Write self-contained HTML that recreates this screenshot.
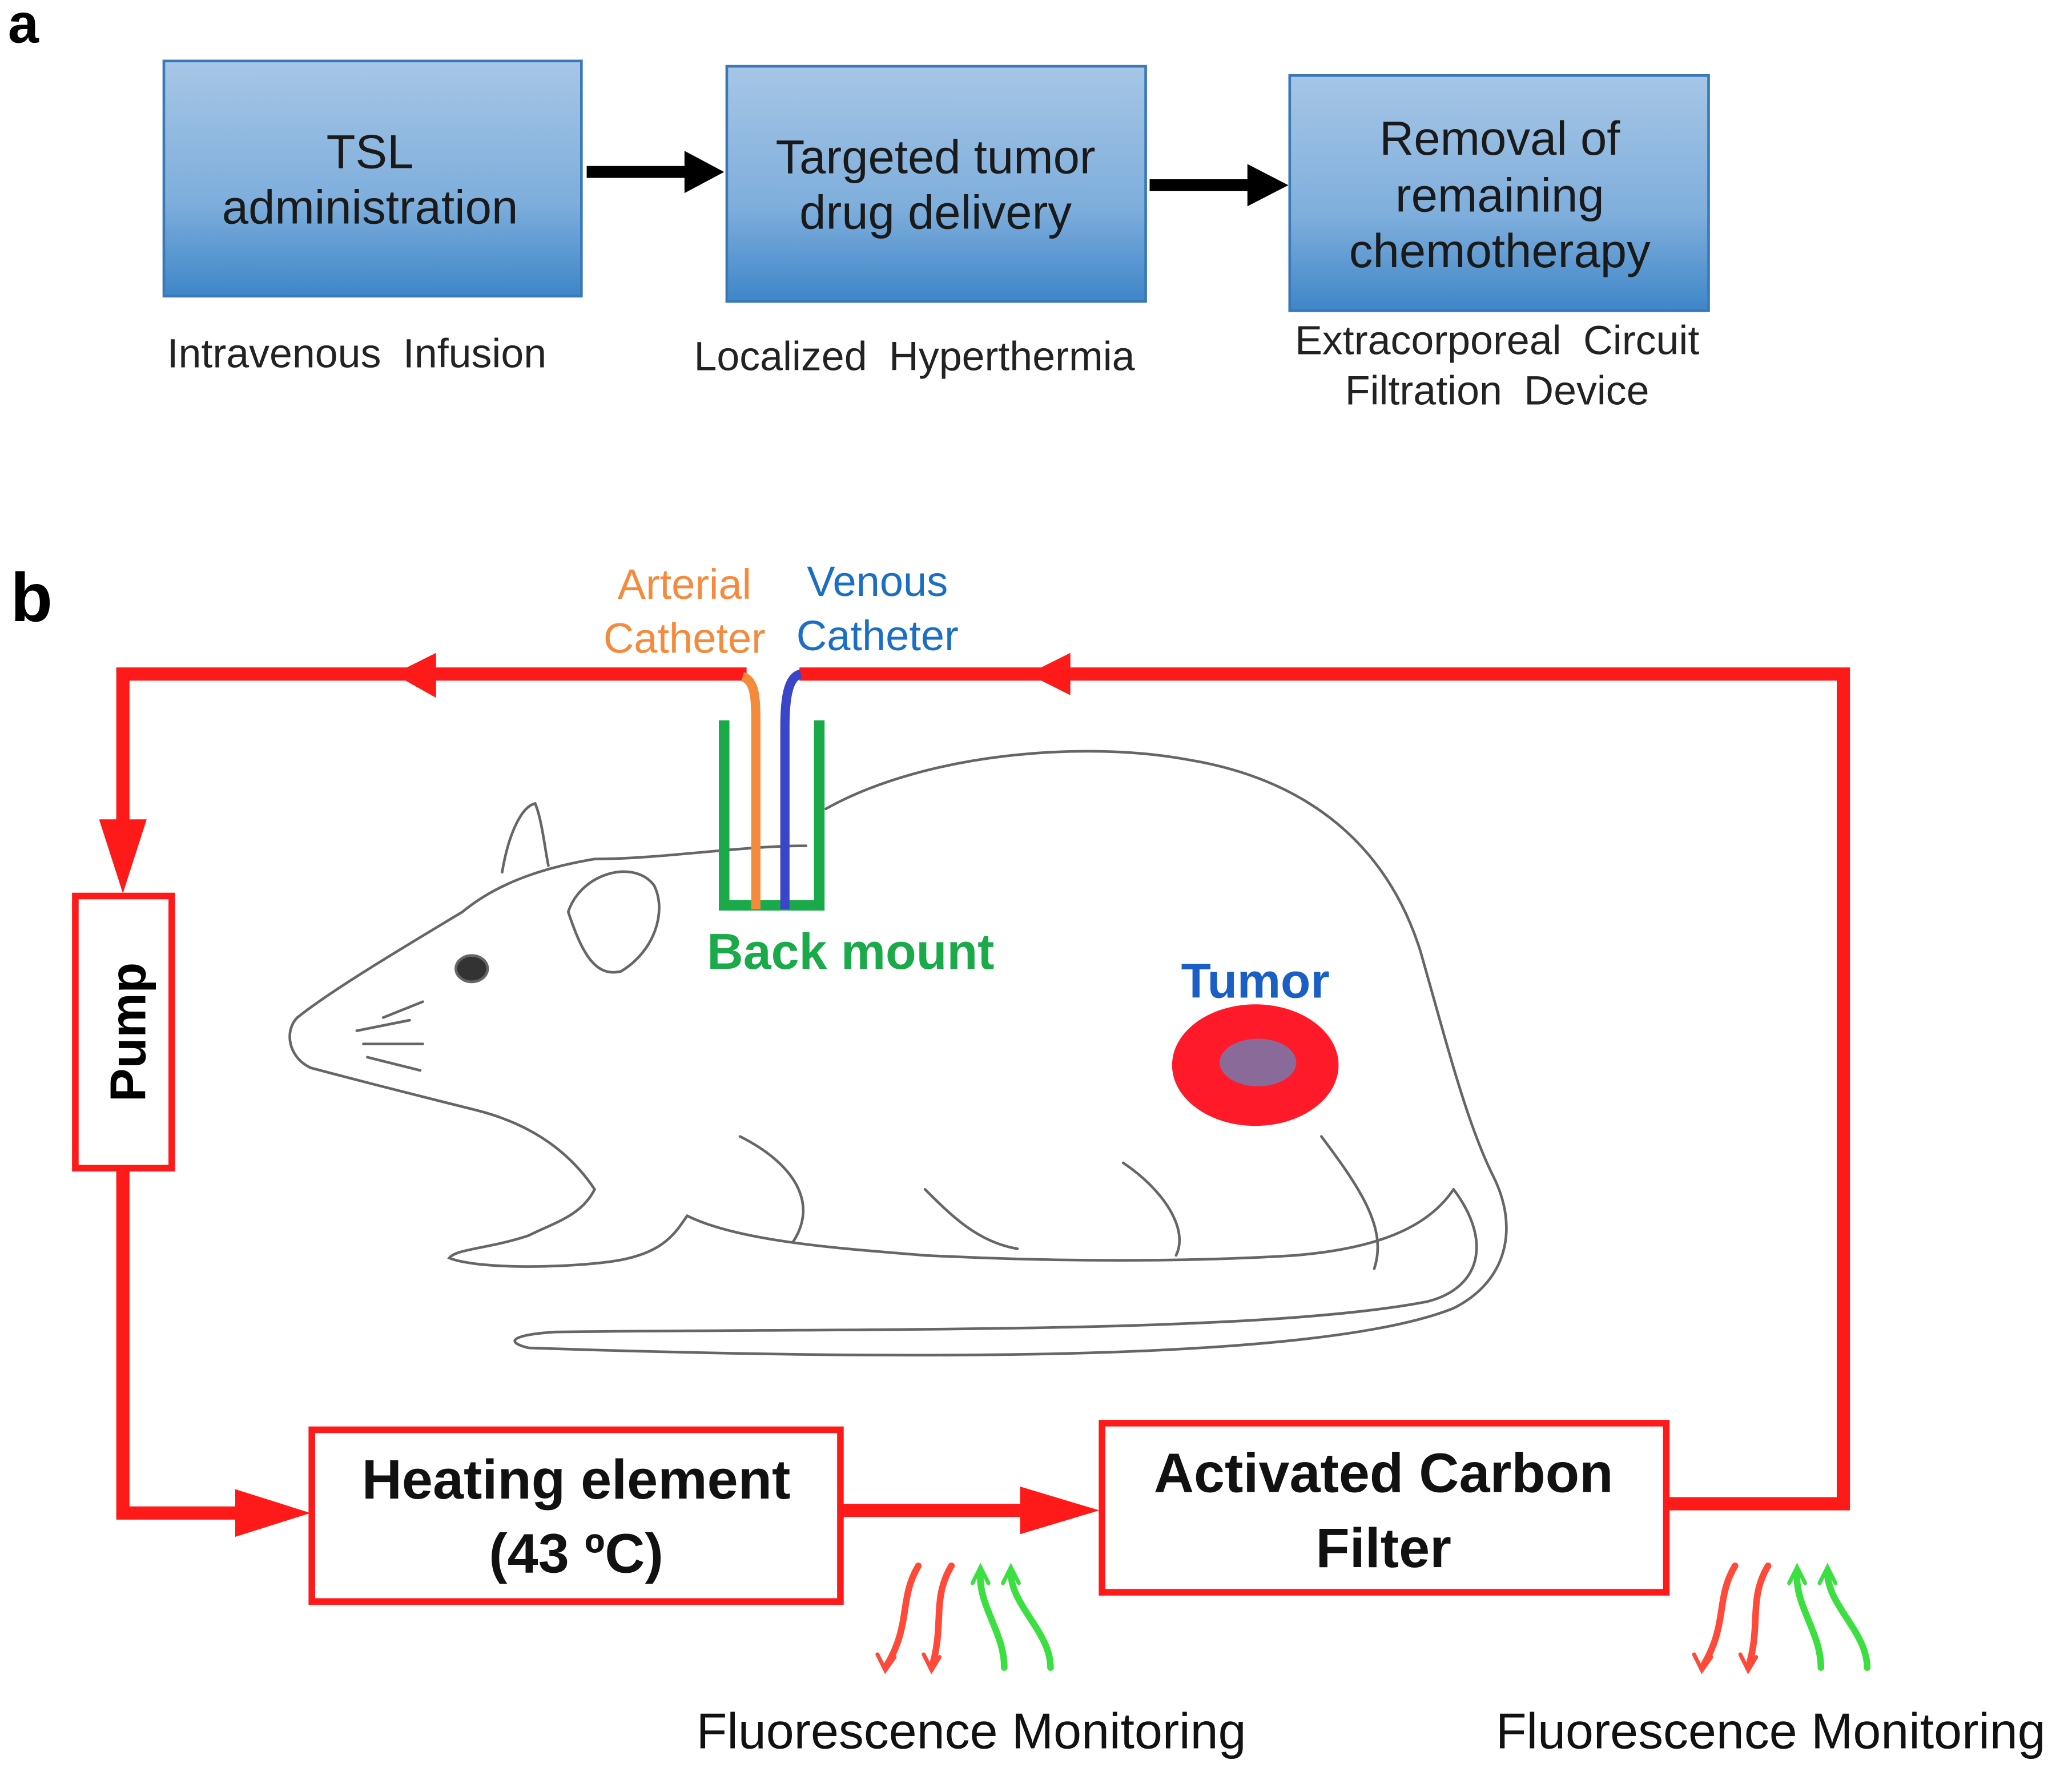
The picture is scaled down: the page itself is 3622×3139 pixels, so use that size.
<!DOCTYPE html>
<html><head><meta charset="utf-8"><style>
html,body{margin:0;padding:0;background:#fff}
svg{display:block}
text{font-family:"Liberation Sans",sans-serif}
</style></head><body>
<svg width="3622" height="3139" viewBox="0 0 1565 1356" xmlns="http://www.w3.org/2000/svg">
<defs>
<linearGradient id="g" x1="0" y1="0" x2="0" y2="1">
<stop offset="0" stop-color="#a6c6e6"/><stop offset="0.6" stop-color="#7eaedc"/><stop offset="1" stop-color="#3e86c8"/>
</linearGradient>
</defs>
<rect width="1565" height="1356" fill="#fff"/>
<text x="6" y="32" font-family="Liberation Serif" font-weight="bold" font-size="42">a</text>
<g stroke="#3a78b8" stroke-width="2" fill="url(#g)">
<rect x="124" y="46" width="316" height="178"/>
<rect x="550" y="50" width="317" height="178"/>
<rect x="976" y="57" width="317" height="178"/>
</g>
<g font-size="36" fill="#1a1a1a" text-anchor="middle">
<text x="280" y="127">TSL</text><text x="280" y="169">administration</text>
<text x="708" y="131">Targeted tumor</text><text x="708" y="173">drug delivery</text>
<text x="1135" y="117">Removal of</text><text x="1135" y="160">remaining</text><text x="1135" y="202">chemotherapy</text>
</g>
<g fill="#000" stroke="#000">
<line x1="444" y1="130" x2="520" y2="130" stroke-width="9"/>
<polygon points="518,114 548,130 518,146" stroke="none"/>
<line x1="870" y1="140" x2="946" y2="140" stroke-width="9"/>
<polygon points="944,124 975,140 944,156" stroke="none"/>
</g>
<g font-size="31" fill="#222" text-anchor="middle" word-spacing="8">
<text x="270" y="278">Intravenous Infusion</text>
<text x="692" y="280">Localized Hyperthermia</text>
<text x="1133" y="268">Extracorporeal Circuit</text>
<text x="1133" y="306">Filtration Device</text>
</g>
<text x="8" y="470" font-family="Liberation Sans" font-weight="bold" font-size="52">b</text>

<!-- rat -->
<g fill="none" stroke="#666" stroke-width="2" stroke-linecap="round">
<path d="M625,612 C700,570 820,560 900,575 C990,590 1050,640 1075,720 C1095,790 1110,850 1130,890 C1150,930 1140,970 1100,990 C1000,1030 700,1030 400,1020 C380,1015 390,1010 420,1008 C650,1005 950,1010 1080,985 C1120,975 1130,940 1100,900"/>
<path d="M610,640 C560,640 500,650 450,650 C420,655 380,665 350,690 C300,720 250,750 225,770 C215,780 218,800 235,808 C280,820 320,830 360,840 C400,850 430,870 450,900 C440,920 420,925 400,935 C370,945 345,945 340,952 C360,960 420,960 460,955 C500,950 510,935 520,920"/>
<path d="M520,920 C560,940 640,945 700,950 C800,955 900,955 980,950 C1040,945 1080,930 1100,900"/>
<path d="M380,660 C385,630 395,610 405,608 C410,620 412,640 415,655"/>
<path d="M430,690 C440,660 480,650 495,670 C505,690 495,720 470,735 C450,740 440,720 430,690"/>
<ellipse cx="357" cy="733" rx="12" ry="10" fill="#333"/>
<path d="M270,780 l40,-8 M275,790 l45,0 M278,800 l40,10 M290,770 l30,-12"/>
<path d="M560,860 C600,880 620,910 600,940 M700,900 C720,920 740,940 770,945 M850,880 C880,900 900,930 890,950 M1000,860 C1030,900 1050,930 1040,960"/>
</g>
<!-- loop -->
<g stroke="#ff1a1a" stroke-width="10" fill="none" stroke-linejoin="miter">
<polyline points="565,510 93,510 93,640"/>
<polyline points="93,884 93,1145 190,1145"/>
<line x1="636" y1="1143" x2="785" y2="1143"/>
<polyline points="1261,1138 1395,1138 1395,510 605,510"/>
</g>
<g fill="#ff1a1a">
<polygon points="75,620 111,620 93,676"/>
<polygon points="178,1127 235,1145 178,1163"/>
<polygon points="772,1125 832,1143 772,1161"/>
<polygon points="330,494 298,510 330,528"/>
<polygon points="810,494 778,510 810,526"/>
</g>
<rect x="57" y="678" width="73" height="206" fill="#fff" stroke="#ff1a1a" stroke-width="5"/>
<text transform="translate(110,781) rotate(-90)" text-anchor="middle" font-weight="bold" font-size="38">Pump</text>
<rect x="236" y="1082" width="400" height="130" fill="#fff" stroke="#ff1a1a" stroke-width="5"/>
<rect x="834" y="1077" width="427" height="128" fill="#fff" stroke="#ff1a1a" stroke-width="5"/>
<g font-weight="bold" font-size="42" text-anchor="middle" fill="#111">
<text x="436" y="1134">Heating element</text><text x="436" y="1190">(43 ºC)</text>
<text x="1047" y="1129">Activated Carbon</text><text x="1047" y="1186">Filter</text>
</g>
<!-- catheters -->
<path d="M548,545 V685 H620 V545" fill="none" stroke="#1aaa4a" stroke-width="8"/>
<path d="M562,512 C572,515 572,530 572,550 V688" fill="none" stroke="#f58a3c" stroke-width="7"/>
<path d="M606,510 C596,512 594,530 594,550 V688" fill="none" stroke="#3b45c8" stroke-width="7"/>
<g font-size="32" text-anchor="middle">
<text x="518" y="453" fill="#f58a3c">Arterial</text><text x="518" y="494" fill="#f58a3c">Catheter</text>
<text x="664" y="451" fill="#1a6fc4">Venous</text><text x="664" y="492" fill="#1a6fc4">Catheter</text>
</g>
<text x="535" y="733" font-weight="bold" font-size="38" fill="#1aaa4a">Back mount</text>
<text x="950" y="755" font-weight="bold" font-size="37" fill="#1a5fc4" text-anchor="middle">Tumor</text>
<ellipse cx="950" cy="806" rx="63" ry="46" fill="#ff1a2a"/>
<ellipse cx="952" cy="804" rx="29" ry="18" fill="#8a6a98"/>
<!-- squiggles -->
<g fill="none" stroke-width="5" stroke-linecap="round">
<g id="sq">
<path d="M695,1185 C680,1210 690,1230 670,1262" stroke="#ff4a3a"/>
<path d="M720,1185 C705,1210 715,1230 705,1262" stroke="#ff4a3a"/>
<path d="M742,1190 C740,1215 760,1235 760,1262" stroke="#3be040"/>
<path d="M765,1190 C765,1215 795,1235 795,1262" stroke="#3be040"/>
<path d="M664,1252 L670,1264 L677,1254 M699,1252 L705,1264 L711,1254" stroke="#ff4a3a" stroke-width="3"/>
<path d="M736,1198 L742,1186 L748,1198 M759,1198 L765,1186 L771,1198" stroke="#3be040" stroke-width="3"/>
</g>
<use href="#sq" transform="translate(618,0)"/>
</g>
<g font-size="38" text-anchor="middle" fill="#111">
<text x="735" y="1323">Fluorescence Monitoring</text>
<text x="1340" y="1323">Fluorescence Monitoring</text>
</g>
</svg>
</body></html>
